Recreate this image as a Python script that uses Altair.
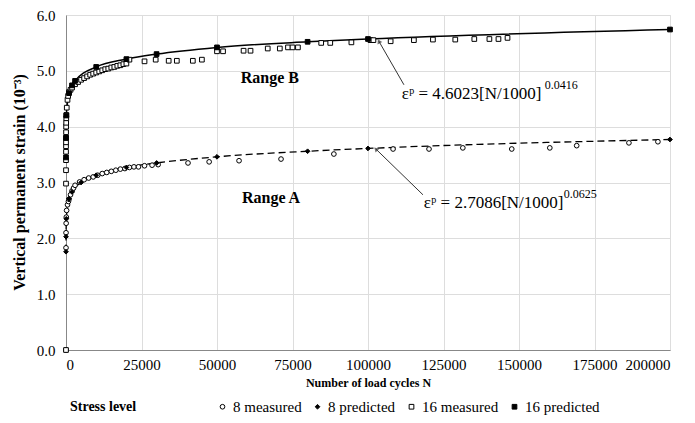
import altair as alt
import pandas as pd

# ---- data ----
n8_meas = [0, 1, 10, 50, 100, 200, 500, 800, 1000, 1500,
           2000, 2500, 3000, 4500, 6000, 7500, 9000, 10500, 12000, 13500,
           15000, 16500, 18000, 19500, 21000, 22500, 24000, 26000, 28500, 30500,
           40400, 47400, 57300, 71200, 88700, 108300, 120200, 131400, 147600, 160200,
           169100, 186400, 196000]
e8_meas = [0.0, 1.83, 2.10, 2.27, 2.38, 2.50, 2.60, 2.66, 2.70, 2.78,
           2.85, 2.90, 2.95, 3.01, 3.05, 3.08, 3.10, 3.13, 3.16, 3.18,
           3.20, 3.22, 3.24, 3.25, 3.27, 3.28, 3.28, 3.30, 3.31, 3.32,
           3.35, 3.37, 3.39, 3.42, 3.51, 3.60, 3.60, 3.62, 3.60, 3.62,
           3.66, 3.71, 3.73]

n8_pred = [1, 10, 100, 1000, 2000, 5000, 10000, 20000, 30000, 50000, 80000, 100000, 200000]
e8_pred = [1.76, 2.03, 2.35, 2.71, 2.83, 3.00, 3.13, 3.27, 3.35, 3.46, 3.56, 3.61, 3.77]

n16_meas = [0, 1, 2, 3, 5, 8, 10, 15, 25, 40,
            60, 90, 120, 250, 500, 700, 1000, 1500, 2000, 3000,
            4000, 5000, 6000, 7000, 8000, 9000, 10000, 11000, 12000, 13000,
            14000, 15000, 16000, 17000, 18000, 19000, 20000, 21000, 26000, 29700,
            34000, 36700, 42000, 45000, 50000, 52000, 58800, 61100, 66800, 70800,
            73500, 75000, 76800, 84500, 87500, 94500, 100800, 101800, 107500, 115200,
            121500, 128900, 135200, 140200, 143200, 146200]
e16_meas = [0.0, 2.98, 3.22, 3.40, 3.55, 3.65, 3.72, 3.80, 3.90, 4.00,
            4.07, 4.15, 4.21, 4.34, 4.48, 4.55, 4.62, 4.66, 4.70, 4.76,
            4.80, 4.84, 4.87, 4.90, 4.93, 4.95, 4.97, 4.99, 5.01, 5.03,
            5.04, 5.06, 5.07, 5.09, 5.10, 5.12, 5.13, 5.20, 5.17, 5.20,
            5.18, 5.18, 5.18, 5.20, 5.35, 5.35, 5.36, 5.36, 5.40, 5.40,
            5.42, 5.42, 5.42, 5.50, 5.50, 5.51, 5.55, 5.55, 5.53, 5.55,
            5.56, 5.56, 5.57, 5.57, 5.57, 5.59]

n16_pred = [1, 10, 100, 1000, 2000, 3000, 10000, 20000, 30000, 50000, 80000, 100000, 200000]
e16_pred = [3.45, 3.80, 4.20, 4.60, 4.74, 4.82, 5.07, 5.21, 5.30, 5.42, 5.52, 5.57, 5.74]

series_names = ["8 measured", "8 predicted", "16 measured", "16 predicted"]
x_ticks = [0, 25000, 50000, 75000, 100000, 125000, 150000, 175000, 200000]
y_ticks = [0, 1, 2, 3, 4, 5, 6]

SERIF = "Liberation Serif"

# ---- tables ----
def tbl(ns, es, name):
    return pd.DataFrame({"N": ns, "e": es, "series": name})

pts = pd.concat([
    tbl(n8_meas, e8_meas, series_names[0]),
    tbl(n8_pred, e8_pred, series_names[1]),
    tbl(n16_meas, e16_meas, series_names[2]),
    tbl(n16_pred, e16_pred, series_names[3]),
])
lineA = tbl(n8_pred, e8_pred, "A")
lineB = tbl(n16_pred, e16_pred, "B")

xs = alt.Scale(domain=[0, 200000], nice=False)
ys = alt.Scale(domain=[0, 6], nice=False)

x_enc = alt.X("N:Q", scale=xs, axis=alt.Axis(
    values=x_ticks, format="d", title="Number of load cycles N",
    labelFont=SERIF, labelFontSize=15, labelPadding=7, ticks=False,
    titleFont=SERIF, titleFontSize=12, titleFontWeight="bold", titlePadding=5))
y_enc = alt.Y("e:Q", scale=ys, axis=alt.Axis(
    values=y_ticks, format=".1f", title="Vertical permanent strain (10⁻³)",
    labelFont=SERIF, labelFontSize=15, labelPadding=11, ticks=False,
    titleFont=SERIF, titleFontSize=16, titleFontWeight="bold",
    titleX=-47, titleY=167, titleAlign="center", titleBaseline="middle"))

line_a = alt.Chart(lineA).mark_line(color="black", strokeWidth=1.3, strokeDash=[7, 4],
                                    interpolate="monotone").encode(x=x_enc, y=y_enc)
line_b = alt.Chart(lineB).mark_line(color="black", strokeWidth=1.5,
                                    interpolate="monotone").encode(x="N:Q", y="e:Q")

legend = alt.Legend(orient="none", legendX=4, legendY=384, direction="horizontal",
                    columns=4, title="Stress level", titleOrient="left", titlePadding=78,
                    titleFont=SERIF, titleFontSize=14, titleFontWeight="bold",
                    titleColor="black",
                    labelFont=SERIF, labelFontSize=15, labelColor="black",
                    symbolSize=22, symbolStrokeWidth=1,
                    columnPadding=8, labelOffset=3)

points = alt.Chart(pts).mark_point(strokeWidth=1, opacity=1, size=22).encode(
    x="N:Q", y="e:Q",
    shape=alt.Shape("series:N", scale=alt.Scale(domain=series_names,
                    range=["circle", "diamond", "square", "square"]), legend=legend),
    fill=alt.Fill("series:N", scale=alt.Scale(domain=series_names,
                  range=["white", "black", "white", "black"]), legend=legend),
    stroke=alt.Stroke("series:N", scale=alt.Scale(domain=series_names,
                      range=["black", "black", "black", "black"]), legend=legend),
)

# ---- annotations ----
labels = pd.DataFrame({"N": [67500, 67900], "e": [4.88, 2.72], "t": ["Range B", "Range A"]})
lab = alt.Chart(labels).mark_text(font=SERIF, fontSize=16, fontWeight="bold",
                                  color="black").encode(x="N:Q", y="e:Q", text="t:N")

eqs = pd.DataFrame({"N": [111200, 118500], "e": [4.58, 2.63],
                    "t": ["εᵖ = 4.6023[N/1000]", "εᵖ = 2.7086[N/1000]"]})
eq = alt.Chart(eqs).mark_text(font=SERIF, fontSize=17, align="left", color="black").encode(
    x="N:Q", y="e:Q", text="t:N")
exps = pd.DataFrame({"N": [158500, 164800], "e": [4.75, 2.80], "t": ["0.0416", "0.0625"]})
ex = alt.Chart(exps).mark_text(font=SERIF, fontSize=12, align="left", color="black").encode(
    x="N:Q", y="e:Q", text="t:N")

arrows = pd.DataFrame({"N": [111900, 118200], "e": [4.75, 2.78],
                       "N2": [103600, 102600], "e2": [5.53, 3.60]})
arr = alt.Chart(arrows).mark_rule(color="#333", strokeWidth=1).encode(
    x="N:Q", y="e:Q", x2="N2:Q", y2="e2:Q")
heads = pd.DataFrame({"N": [103600, 102600], "e": [5.53, 3.60], "a": [333, 315]})
hd = alt.Chart(heads).mark_point(shape="triangle-up", filled=True, color="#333", size=28).encode(
    x="N:Q", y="e:Q", angle=alt.Angle("a:Q", scale=None))

chart = alt.layer(line_a, line_b, points, lab, eq, ex, arr, hd).properties(
    width=604, height=335,
    autosize=alt.AutoSizeParams(type="none"),
    padding={"left": 58, "top": 7, "right": 17, "bottom": 65},
).configure_view(stroke="black", strokeWidth=1.2).configure_axis(
    grid=False, domainColor="black", domainWidth=1.2, labelColor="black", titleColor="black"
).configure(background="white")

chart.save("out.html", embed_options={"renderer": "svg", "actions": False})
